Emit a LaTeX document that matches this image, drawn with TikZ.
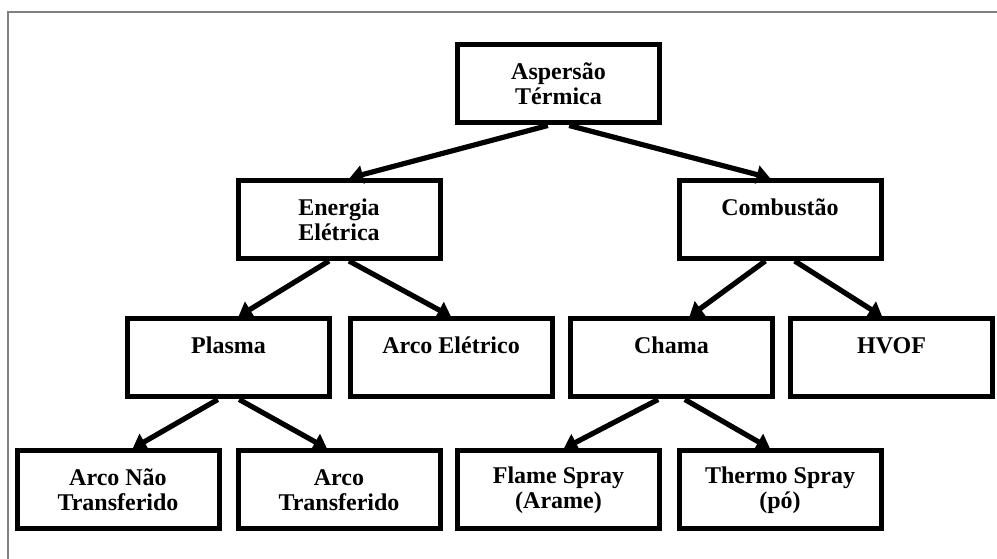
\documentclass[tikz,border=0pt]{standalone}
\usepackage{fontspec}
\setmainfont{Liberation Serif}
\usetikzlibrary{arrows.meta, positioning}
\colorlet{framegray}{black!50}

\begin{document}
\begin{tikzpicture}[x=0.75pt, y=-0.75pt, >={Triangle[length=10pt, width=13.5pt]},
    caixa/.style={draw, line width=3.75pt, minimum width=151.5pt, minimum height=58.5pt,
      inner sep=0pt, align=center, font=\bfseries\fontsize{18}{19}\selectfont},
    seta/.style={->, line width=3.9pt}]
    \useasboundingbox (0,0) rectangle (997,559);

    % Gray frame on top and left side
    \draw[framegray, line width=2pt] (8,559) -- (8,12) -- (997,12);

    % Root
    \node[caixa] (aspersao) at (558.5,84) {Aspersão\\Térmica};

    % Energy sources
    \node[caixa] (energia) at (339,219.5) {Energia\\Elétrica};
    \node[caixa] (combustao) at (780,219.5) {Combustão\\\mbox{}};

    % Processes
    \node[caixa] (plasma) at (228.5,358) {Plasma\\\mbox{}};
    \node[caixa] (arcoeletrico) at (451,358) {Arco Elétrico\\\mbox{}};
    \node[caixa] (chama) at (671.5,358) {Chama\\\mbox{}};
    \node[caixa] (hvof) at (891.5,358) {HVOF\\\mbox{}};

    % Variants
    \node[caixa] (arconao) at (118,490) {Arco Não\\Transferido};
    \node[caixa] (arcotransf) at (339,490) {Arco\\Transferido};
    \node[caixa] (flame) at (558.5,490) {Flame Spray\\(Arame)};
    \node[caixa] (thermo) at (780,490) {Thermo Spray\\(pó)};

    % Arrows
    \draw[seta] ([xshift=-8pt]aspersao.south) -- ([xshift=8pt]energia.north);
    \draw[seta] ([xshift=8pt]aspersao.south) -- ([xshift=-7.5pt]combustao.north);
    \draw[seta] ([xshift=-7.5pt]energia.south) -- ([xshift=7.5pt]plasma.north);
    \draw[seta] ([xshift=7.5pt]energia.south) -- (arcoeletrico.north);
    \draw[seta] ([xshift=-11pt]combustao.south) -- ([xshift=13.5pt]chama.north);
    \draw[seta] ([xshift=11pt]combustao.south) -- ([xshift=-7pt]hvof.north);
    \draw[seta] ([xshift=-8pt]plasma.south) -- ([xshift=11pt]arconao.north);
    \draw[seta] ([xshift=8pt]plasma.south) -- ([xshift=-9pt]arcotransf.north);
    \draw[seta] ([xshift=-10pt]chama.south) -- ([xshift=4pt]flame.north);
    \draw[seta] ([xshift=10pt]chama.south) -- ([xshift=-7.5pt]thermo.north);
\end{tikzpicture}
\end{document}
